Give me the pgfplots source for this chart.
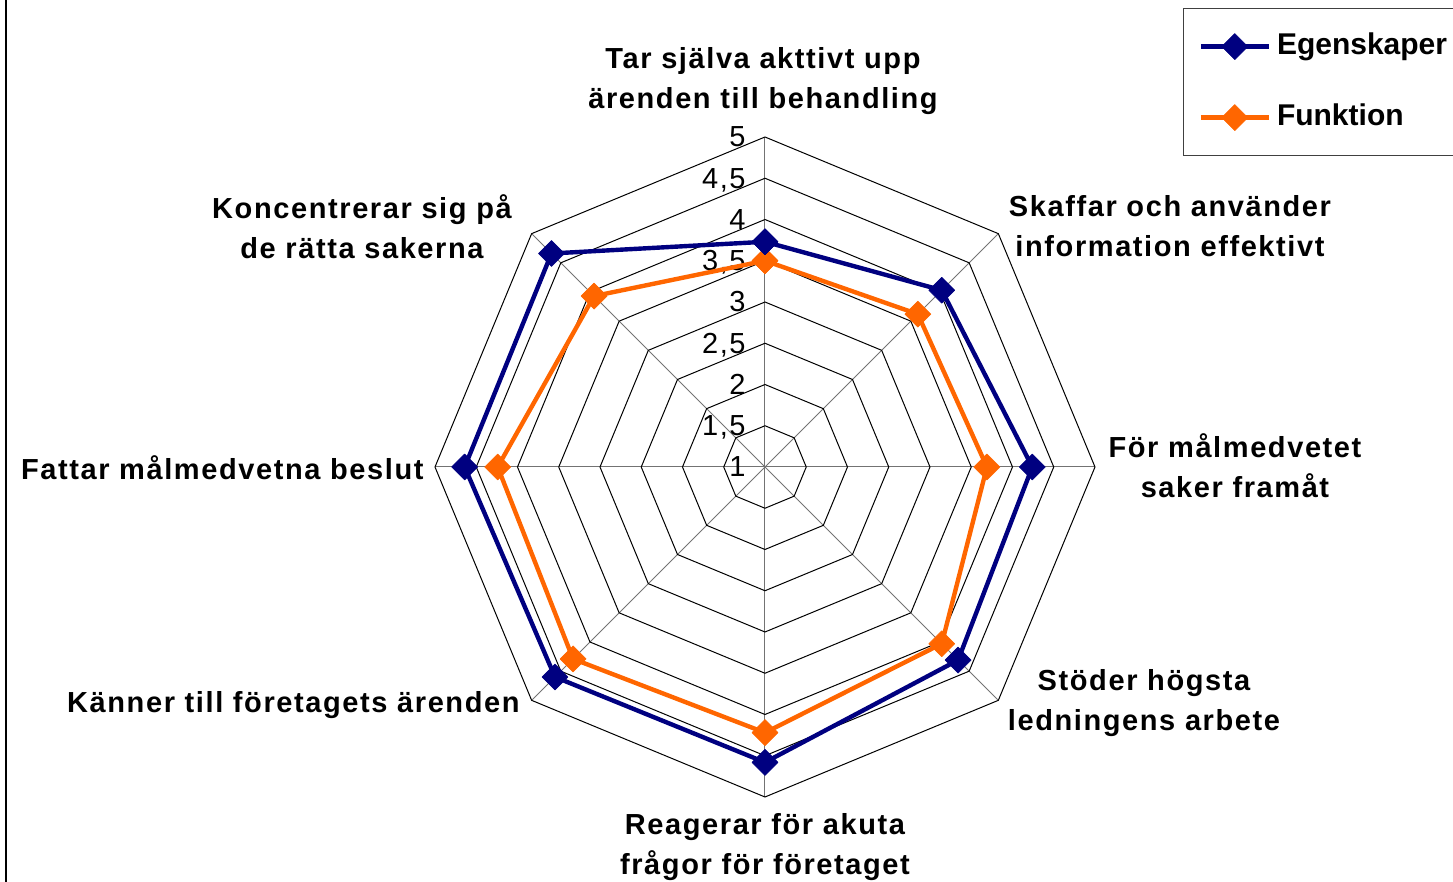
\documentclass[border=0pt]{standalone}
\usepackage{fontspec}
\setmainfont{Liberation Sans}
\newfontfamily\labfont{Liberation Sans}[LetterSpace=5.5]
\usepackage{pgfplots}
\usepackage{pgfplotstable}
\pgfplotsset{compat=1.18}
\definecolor{egen}{HTML}{000080}
\definecolor{funk}{HTML}{FF6600}

% angle of the spoke (deg), value on the 1..5 scale
\pgfplotstableread{
ang val
90 3.73
45 4.03
0 4.24
-45 4.31
-90 4.58
-135 4.60
180 4.64
135 4.66
90 3.73
}\egen
\pgfplotstableread{
ang val
90 3.50
45 3.62
0 3.69
-45 4.03
-90 4.22
-135 4.29
180 4.24
135 3.93
90 3.50
}\funk

\begin{document}
\begin{tikzpicture}
% radar grid, 1 scale unit = 41.25pt, centre at (0,0)
\begin{scope}[x=41.25pt, y=41.25pt]
\foreach \a in {90,45,0,-45,-90,-135,180,135}
  \draw[black!55, line width=0.5pt] (0,0) -- (\a:4);
\foreach \r in {0.5,1,...,4}
  \draw[black, line width=0.5pt] (90:\r) -- (45:\r) -- (0:\r) -- (-45:\r) -- (-90:\r) -- (-135:\r) -- (180:\r) -- (135:\r) -- cycle;
\end{scope}
\foreach \v/\t in {0/1, 0.5/{1,5}, 1/2, 1.5/{2,5}, 2/3, 2.5/{3,5}, 3/4, 3.5/{4,5}, 4/5}
  \node[anchor=base east, inner sep=0pt, font=\labfont\fontsize{14.5}{16}\selectfont] at (-9.5pt, 41.25pt*\v-5pt) {\t};

\begin{axis}[
    at={(0,0)}, anchor=origin,
    x=41.25pt, y=41.25pt,
    xmin=-5, xmax=5, ymin=-5, ymax=5,
    hide axis,
    reverse legend,
    legend style={
        at={(axis cs:5.0667,5.5636)},
        anchor=north west,
        draw=black!75, line width=0.6pt, fill=white,
        inner xsep=7.5pt, inner ysep=12pt,
        row sep=21.5pt, column sep=3pt,
        font=\bfseries\fontsize{15}{18}\selectfont,
        nodes={inner sep=0pt, text height=11pt, text depth=3pt, anchor=west},
    },
    legend image code/.code={
        \draw[mark repeat=2, mark phase=2, #1] plot coordinates {(0pt,0pt) (17pt,0pt) (34pt,0pt)};
    },
]
\addplot[funk, line width=2.2pt, line join=round, mark=square*, mark size=4.6pt,
    mark options={solid, rotate=45, line width=0.3pt}]
    table[x expr={(\thisrow{val}-1)*cos(\thisrow{ang})}, y expr={(\thisrow{val}-1)*sin(\thisrow{ang})}] {\funk};
\addlegendentry{Funktion}
\addplot[egen, line width=2.2pt, line join=round, mark=square*, mark size=4.6pt,
    mark options={solid, rotate=45, line width=0.3pt}]
    table[x expr={(\thisrow{val}-1)*cos(\thisrow{ang})}, y expr={(\thisrow{val}-1)*sin(\thisrow{ang})}] {\egen};
\addlegendentry{Egenskaper}
\end{axis}

% category labels
\begin{scope}[every node/.style={font=\labfont\bfseries\fontsize{14.5}{20}\selectfont, inner sep=0pt, align=center}]
\node at (-1pt,193pt) {Tar själva akttivt upp\\ärenden till behandling};
\node at (202.5pt,120.25pt) {Skaffar och använder\\information effektivt};
\node at (235pt,0.75pt) {För målmedvetet\\saker framåt};
\node at (189.5pt,-118pt) {Stöder högsta\\ledningens arbete};
\node at (0pt,-190.25pt) {Reagerar för akuta\\frågor för företaget};
\node[anchor=east] at (-122.5pt,-119pt) {Känner till företagets ärenden};
\node[anchor=east] at (-170.5pt,-0.5pt) {Fattar målmedvetna beslut};
\node at (-201.5pt,120.25pt) {Koncentrerar sig på\\de rätta sakerna};
\end{scope}

% left frame edge
\draw[black, line width=1pt] (-379.5pt,-230pt) -- (-379.5pt,250pt);

\pgfresetboundingbox
\path (-382.5pt,-207.5pt) rectangle (344pt,233.5pt);
\end{tikzpicture}
\end{document}
